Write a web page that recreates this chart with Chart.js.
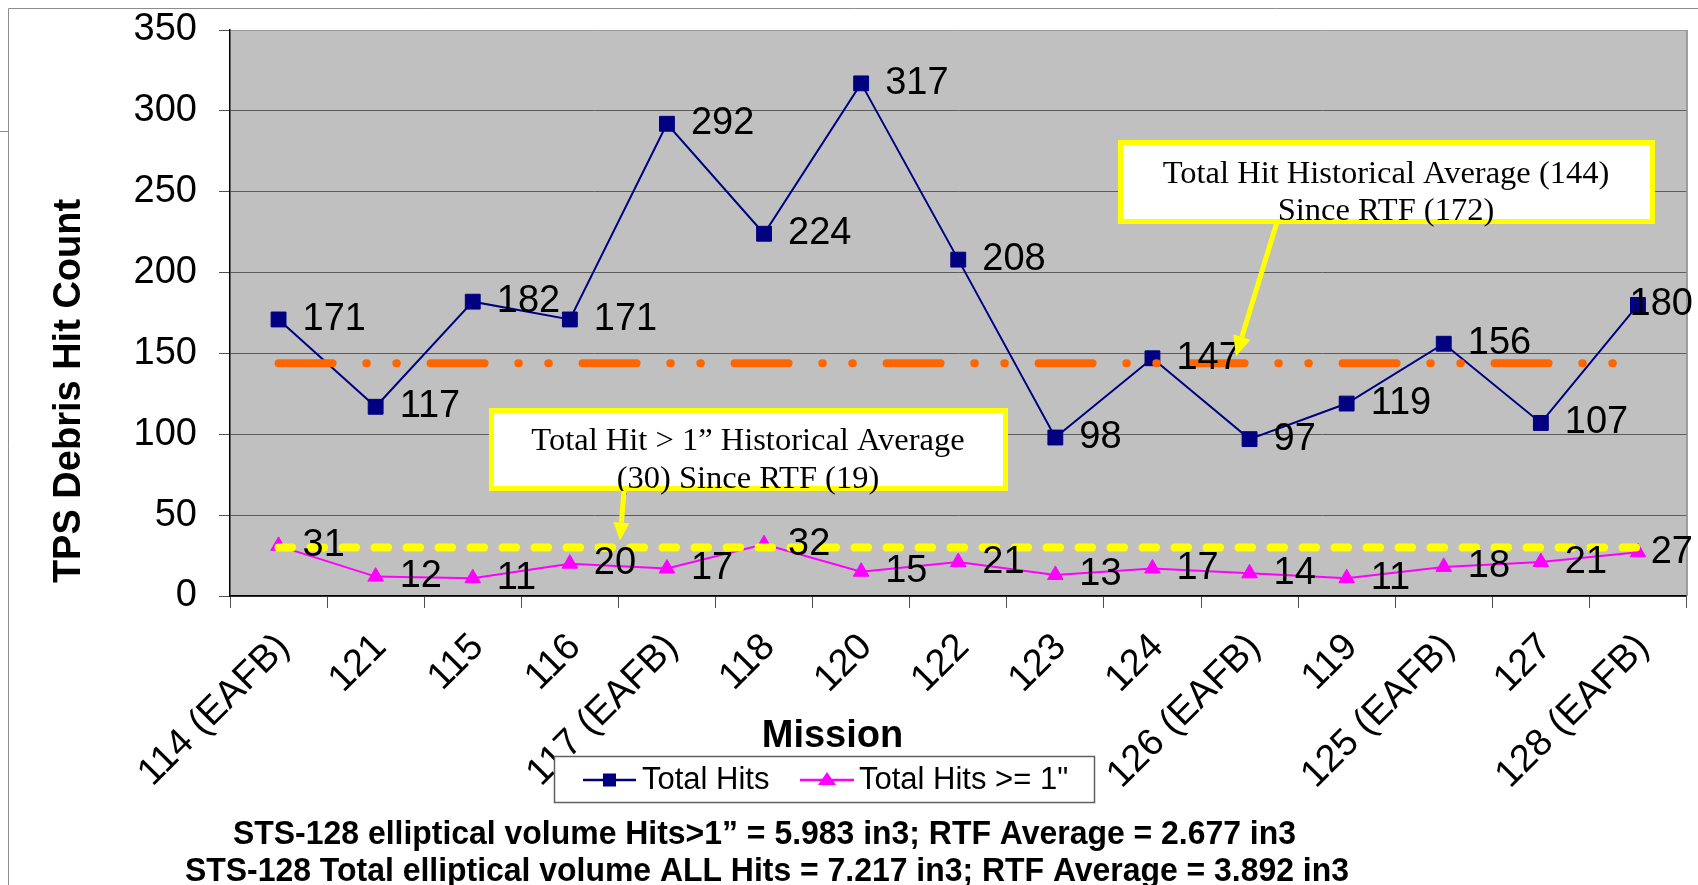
<!DOCTYPE html>
<html>
<head>
<meta charset="utf-8">
<script src="https://cdn.jsdelivr.net/npm/chart.js@4.4.1/dist/chart.umd.min.js"></script>
<style>
  html, body { margin: 0; padding: 0; background: #fff; }
  #wrap { width: 1698px; height: 885px; position: relative; }
</style>
</head>
<body>
<div id="wrap"><canvas id="c" width="1698" height="885"></canvas></div>
<script>
// ---- data ----
const categories = ['114 (EAFB)', '121', '115', '116', '117 (EAFB)', '118', '120', '122', '123', '124', '126 (EAFB)', '119', '125 (EAFB)', '127', '128 (EAFB)'];
const totalHits = [171, 117, 182, 171, 292, 224, 317, 208, 98, 147, 97, 119, 156, 107, 180];
const hitsOver1 = [31, 12, 11, 20, 17, 32, 15, 21, 13, 17, 14, 11, 18, 21, 27];
const totalHitAvg = 144;
const hitsOver1Avg = 30;
const yTickValues = [0, 50, 100, 150, 200, 250, 300, 350];
const seriesNames = ['Total Hits', 'Total Hits >= 1"'];
const noteTotal = ['Total Hit Historical Average (144)', 'Since RTF (172)'];
const noteOver1 = ['Total Hit > 1\u201D Historical Average', '(30) Since RTF (19)'];
const footnotes = [
  'STS-128 elliptical volume Hits>1\u201D = 5.983 in3; RTF Average = 2.677 in3',
  'STS-128 Total elliptical volume ALL Hits = 7.217 in3; RTF Average = 3.892 in3'
];
const yTitle = 'TPS Debris Hit Count';
const xTitle = 'Mission';

// ---- styling ----
const SANS = "'Liberation Sans', Arial, Helvetica, sans-serif";
const SERIF = "'Liberation Serif', 'Times New Roman', serif";
const NAVY = '#000080', MAGENTA = '#FF00FF', ORANGE = '#FF6600', YELLOW = '#FFFF00';
const TICK_FONT = 38;

function drawArrow(ctx, x1, y1, x2, y2, headLen, headHalf) {
  const ang = Math.atan2(y2 - y1, x2 - x1);
  const bx = x2 - headLen * Math.cos(ang), by = y2 - headLen * Math.sin(ang);
  ctx.beginPath();
  ctx.moveTo(x1, y1);
  ctx.lineTo(bx, by);
  ctx.stroke();
  ctx.beginPath();
  ctx.moveTo(x2, y2);
  ctx.lineTo(bx + headHalf * Math.sin(ang), by - headHalf * Math.cos(ang));
  ctx.lineTo(bx - headHalf * Math.sin(ang), by + headHalf * Math.cos(ang));
  ctx.closePath();
  ctx.fill();
}

function drawCallout(ctx, lines, rect, baselines, cx) {
  ctx.fillStyle = '#fff';
  ctx.fillRect(rect.x, rect.y, rect.w, rect.h);
  ctx.strokeStyle = YELLOW;
  ctx.lineWidth = 5;
  ctx.strokeRect(rect.x, rect.y, rect.w, rect.h);
  ctx.fillStyle = '#000';
  ctx.font = '32.5px ' + SERIF;
  ctx.textAlign = 'center';
  ctx.textBaseline = 'alphabetic';
  lines.forEach((t, i) => ctx.fillText(t, cx, baselines[i]));
}

const decor = {
  id: 'decor',
  beforeDraw(chart) {
    const {ctx, chartArea: a} = chart;
    ctx.save();
    ctx.fillStyle = '#fff';
    ctx.fillRect(0, 0, chart.width, chart.height);
    ctx.fillStyle = '#C0C0C0';
    ctx.fillRect(a.left, a.top, a.right - a.left, a.bottom - a.top);
    ctx.restore();
  },
  afterDatasetsDraw(chart) {
    const {ctx, chartArea: a} = chart;
    const ys = chart.scales.y;
    ctx.save();
    // plot area right border
    ctx.strokeStyle = '#808080';
    ctx.lineWidth = 1.5;
    ctx.beginPath();
    ctx.moveTo(a.right + 0.5, a.top);
    ctx.lineTo(a.right + 0.5, a.bottom);
    ctx.stroke();

    // data labels
    ctx.font = TICK_FONT + 'px ' + SANS;
    ctx.fillStyle = '#000';
    ctx.textAlign = 'left';
    ctx.textBaseline = 'middle';
    [0, 1].forEach(di => {
      const meta = chart.getDatasetMeta(di);
      const vals = chart.data.datasets[di].data;
      meta.data.forEach((pt, i) => {
        const txt = String(vals[i]);
        const w = ctx.measureText(txt).width;
        let x = pt.x + 24;
        if (x + w > chart.width - 5) x = chart.width - 5 - w;
        ctx.fillText(txt, x, pt.y);
      });
    });

    // callouts
    drawCallout(ctx, noteTotal, {x: 1120.5, y: 142.5, w: 532, h: 79}, [183, 220], 1386);
    drawCallout(ctx, noteOver1, {x: 491.5, y: 410.5, w: 514, h: 78}, [450, 488], 748);
    ctx.strokeStyle = YELLOW;
    ctx.fillStyle = YELLOW;
    ctx.lineWidth = 5;
    drawArrow(ctx, 1277, 222, 1236, ys.getPixelForValue(totalHitAvg) - 7, 20, 9);
    drawArrow(ctx, 624, 491, 620, ys.getPixelForValue(hitsOver1Avg) - 7, 18, 8);
    ctx.restore();
  },
  afterDraw(chart) {
    const {ctx} = chart;
    ctx.save();
    // y axis title
    ctx.save();
    ctx.translate(80, 391);
    ctx.rotate(-Math.PI / 2);
    ctx.font = 'bold 38px ' + SANS;
    ctx.fillStyle = '#000';
    ctx.textAlign = 'center';
    ctx.textBaseline = 'alphabetic';
    ctx.fillText(yTitle, 0, 0);
    ctx.restore();

    // x axis title
    ctx.font = 'bold 38px ' + SANS;
    ctx.fillStyle = '#000';
    ctx.textAlign = 'center';
    ctx.textBaseline = 'alphabetic';
    ctx.fillText(xTitle, 832.5, 747);

    // legend
    ctx.fillStyle = '#fff';
    ctx.fillRect(554.5, 756.5, 540, 46);
    ctx.strokeStyle = '#606060';
    ctx.lineWidth = 1.5;
    ctx.strokeRect(554.5, 756.5, 540, 46);
    const ly = 780;
    ctx.lineWidth = 2.5;
    ctx.strokeStyle = NAVY;
    ctx.beginPath(); ctx.moveTo(583, ly); ctx.lineTo(636, ly); ctx.stroke();
    ctx.fillStyle = NAVY;
    ctx.fillRect(603, ly - 6.5, 13, 13);
    ctx.strokeStyle = MAGENTA;
    ctx.beginPath(); ctx.moveTo(800, ly); ctx.lineTo(854, ly); ctx.stroke();
    ctx.fillStyle = MAGENTA;
    ctx.beginPath();
    ctx.moveTo(827, ly - 8); ctx.lineTo(836, ly + 5); ctx.lineTo(818, ly + 5); ctx.closePath();
    ctx.fill();
    ctx.fillStyle = '#000';
    ctx.font = '31px ' + SANS;
    ctx.textAlign = 'left';
    ctx.fillText(seriesNames[0], 642, 789);
    ctx.fillText(seriesNames[1], 859, 789);

    // footnotes
    ctx.font = 'bold 34px ' + SANS;
    ctx.textAlign = 'center';
    ctx.fillText(footnotes[0], 764.5, 844, 1063);
    ctx.fillText(footnotes[1], 767, 881, 1164);

    // outer frame
    ctx.strokeStyle = '#8c8c8c';
    ctx.lineWidth = 1;
    ctx.beginPath();
    ctx.moveTo(8.5, 885); ctx.lineTo(8.5, 8.5); ctx.lineTo(1698, 8.5);
    ctx.moveTo(0, 131.5); ctx.lineTo(8, 131.5);
    ctx.stroke();
    ctx.restore();
  }
};

const chart = new Chart(document.getElementById('c'), {
  type: 'line',
  data: {
    labels: categories,
    datasets: [
      {
        label: seriesNames[0], data: totalHits, order: 1,
        borderColor: NAVY, backgroundColor: NAVY, borderWidth: 2,
        pointStyle: 'rect', pointRadius: 10.5, pointHoverRadius: 10.5,
        pointBorderWidth: 1, tension: 0
      },
      {
        label: seriesNames[1], data: hitsOver1, order: 1,
        borderColor: MAGENTA, backgroundColor: MAGENTA, borderWidth: 2,
        pointStyle: 'triangle', pointRadius: 9, pointHoverRadius: 9,
        pointBorderWidth: 1, tension: 0
      },
      {
        label: 'Total Hit Historical Average', data: categories.map(() => totalHitAvg), order: 0,
        borderColor: ORANGE, borderWidth: 8, borderCapStyle: 'round',
        borderDash: [54, 33.75, 0.5, 29.5, 0.5, 33.75], pointRadius: 0, pointHoverRadius: 0
      },
      {
        label: 'Total Hit > 1 Historical Average', data: categories.map(() => hitsOver1Avg), order: 0,
        borderColor: YELLOW, borderWidth: 8, borderCapStyle: 'round',
        borderDash: [13.5, 18.5], pointRadius: 0, pointHoverRadius: 0
      }
    ]
  },
  options: {
    responsive: false,
    animation: false,
    devicePixelRatio: 1,
    layout: { padding: { left: 0, top: 30, right: 11, bottom: 0 } },
    plugins: { legend: { display: false }, tooltip: { enabled: false } },
    events: [],
    scales: {
      x: {
        type: 'category',
        offset: true,
        grid: { display: true, offset: true, drawOnChartArea: false, drawTicks: true, tickLength: 12, color: '#505050', lineWidth: 1 },
        border: { display: true, color: '#000', width: 1.5 },
        ticks: {
          autoSkip: false, maxRotation: 45, minRotation: 45, padding: 17, labelOffset: 5, color: '#000',
          font: { family: SANS, size: TICK_FONT }
        },
        afterFit: s => { s.height = 289; }
      },
      y: {
        min: 0, max: 350,
        afterBuildTicks: s => { s.ticks = yTickValues.map(v => ({ value: v })); },
        grid: {
          color: ctx => (ctx.tick && ctx.tick.value === 350 ? '#9a9a9a' : '#5c5c5c'),
          lineWidth: 1, tickLength: 11, drawTicks: true,
          tickColor: '#505050'
        },
        border: { display: true, color: '#000', width: 1.5 },
        ticks: { padding: 22, color: '#000', font: { family: SANS, size: TICK_FONT } },
        afterFit: s => { s.width = 230; s.paddingTop = 0; s.paddingBottom = 0; }
      }
    }
  },
  plugins: [decor]
});
</script>
</body>
</html>
